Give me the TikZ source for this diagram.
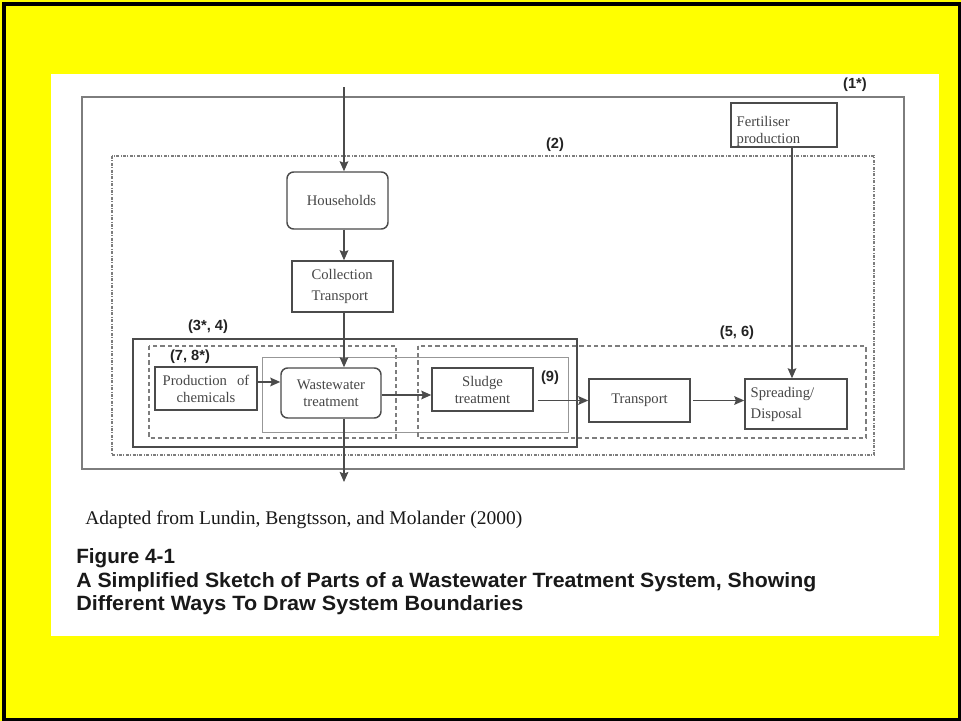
\documentclass[tikz,border=0pt]{standalone}
\usepackage{fontspec}
\setmainfont{Liberation Serif}
\setsansfont{Liberation Sans}
\usetikzlibrary{arrows.meta}
\definecolor{bgyellow}{RGB}{255,255,0}
\definecolor{linegray}{RGB}{75,75,75}
\definecolor{lightline}{RGB}{125,125,125}
\definecolor{textgray}{RGB}{70,70,70}
\definecolor{labelblack}{RGB}{35,35,35}
\definecolor{captext}{RGB}{25,25,25}
\begin{document}
\begin{tikzpicture}[x=0.75pt,y=-0.75pt,
  procbox/.style={draw=linegray, line width=1.1pt, inner sep=2pt, text=textgray, font=\fontsize{11}{12.75}\selectfont, align=center},
  roundbox/.style={procbox, rounded corners=5pt},
  widelines/.style={font=\fontsize{11}{15.75}\selectfont},
  flow/.style={draw=linegray, line width=1.1pt, -{Stealth[length=7.5pt,width=6.5pt,inset=1.2pt]}},
  bound1/.style={draw=lightline, line width=0.8pt},
  bound2/.style={draw=lightline, line width=0.9pt, dash pattern=on 2.2pt off 1.1pt on 0.7pt off 1.1pt},
  bound3/.style={draw=linegray, line width=1.1pt},
  bounddash/.style={draw=lightline, line width=0.8pt, dash pattern=on 3.2pt off 2.2pt},
  boundthin/.style={draw=lightline!80, line width=0.7pt},
  tag/.style={font=\sffamily\bfseries\fontsize{11}{13}\selectfont, text=labelblack, inner sep=0pt},
  capserif/.style={font=\fontsize{14.5}{16}\selectfont, text=captext, inner sep=0pt, anchor=west},
  capsans/.style={font=\sffamily\bfseries\fontsize{15.5}{17}\selectfont, text=captext, inner sep=0pt, anchor=west},
]
\useasboundingbox (0,0) rectangle (961,721);
\fill[bgyellow] (0,0) rectangle (961,721);
\draw[black, line width=2.5pt] (4,4) rectangle (959.5,719.5);
\fill[white] (51,74) rectangle (939,636);

% system boundaries
\draw[bound1] (82,97) rectangle (904,469);
\draw[bound2] (112,156) rectangle (874,455);
\draw[bound3] (133,339) rectangle (577,447);
\draw[bounddash] (149,346) rectangle (396,438);
\draw[boundthin] (262,357) rectangle (568,432);
\draw[bounddash] (418,346) rectangle (866,438);

% process nodes
\node[roundbox, minimum width=75.75pt, minimum height=42.75pt] (hh) at (337.5,200.5) {\hspace*{6pt}Households};
\node[procbox, widelines, minimum width=75.75pt, minimum height=38.25pt, align=left] (ct) at (342.5,286.5) {Collection\\Transport\hspace*{4pt}};
\node[procbox, minimum width=79.5pt, minimum height=33pt, text width=71pt, inner xsep=4.25pt, inner ysep=0pt, align=left] (fp) at (784,125) {\rule{0pt}{17pt}Fertiliser\\production};
\node[procbox, minimum width=76.5pt, minimum height=32.25pt] (pc) at (206,388.5) {\makebox[65pt][s]{Production of}\\chemicals};
\node[roundbox, minimum width=75pt, minimum height=37.5pt] (ww) at (331,393) {Wastewater\\treatment};
\node[procbox, minimum width=75.75pt, minimum height=32.25pt] (st) at (482.5,389.5) {Sludge\\treatment};
\node[procbox, minimum width=75.75pt, minimum height=32.25pt] (tr) at (639.5,400.5) {Transport};
\node[procbox, widelines, minimum width=76.5pt, minimum height=37.5pt, text width=68pt, inner xsep=4.25pt, align=left] (sp) at (796,404) {Spreading/\\Disposal};

% free ends
\coordinate (top) at (344,87);
\coordinate (bottom) at (344,482);

% connectors
\draw[flow] (top) -- (top |- hh.north);
\draw[flow] (hh.south -| top) -- (ct.north -| top);
\draw[flow] (ct.south -| top) -- (ww.north -| top);
\draw[flow] (ww.south -| top) -- (bottom);
\draw[flow] ([yshift=4.9pt]pc.east) -- ([yshift=4.9pt]pc.east -| ww.west);
\draw[flow] ([yshift=-1.5pt]ww.east) -- ([yshift=-1.5pt]ww.east -| st.west);
\draw[flow] ([xshift=3pt]st.east |- tr.west) -- (tr.west);
\draw[flow] ([xshift=2pt]tr.east) -- (tr.east -| sp.west);
\draw[flow] ([xshift=6pt]fp.south) -- ([xshift=6pt]fp.south |- sp.north);

% boundary labels
\node[tag] (l1) at (855,85) {(1*)};
\node[tag] (l2) at (555,145) {(2)};
\node[tag] (l34) at (208,327) {(3*, 4)};
\node[tag] (l78) at (190,357) {(7, 8*)};
\node[tag] (l9) at (550,378) {(9)};
\node[tag] (l56) at (737,333) {(5, 6)};

% caption
\node[capserif] (c0) at (85,520) {\resizebox{327.75pt}{\height}{Adapted from Lundin, Bengtsson, and Molander (2000)}};
\node[capsans] (c1) at (76,558) {Figure 4-1};
\node[capsans] (c2) at (76,582) {\resizebox{555pt}{\height}{A Simplified Sketch of Parts of a Wastewater Treatment System, Showing}};
\node[capsans] (c3) at (76,605) {\resizebox{335.25pt}{\height}{Different Ways To Draw System Boundaries}};
\end{tikzpicture}
\end{document}
